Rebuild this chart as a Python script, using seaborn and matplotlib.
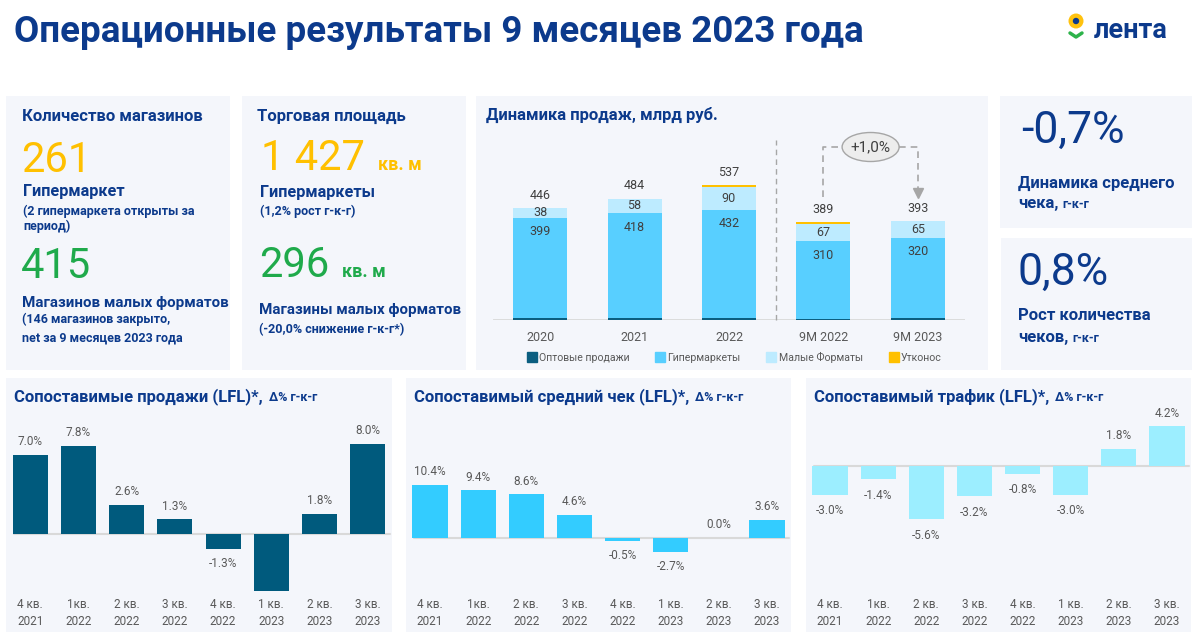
import numpy as np
import pandas as pd
import matplotlib
matplotlib.use("Agg")
import matplotlib.pyplot as plt
import seaborn as sns
from matplotlib.patches import Rectangle, Ellipse, Circle
from matplotlib.lines import Line2D

# ---------------- data ----------------
sales_periods = ["2020", "2021", "2022", "9M 2022", "9M 2023"]
sales_total = [446, 484, 537, 389, 393]
sales_wholesale = [9, 8, 7, 4, 8]
sales_hyper = [399, 418, 432, 310, 320]
sales_small = [38, 58, 90, 67, 65]
sales_utkonos = [0, 0, 8, 8, 0]
sales_growth = "+1,0%"
sales_legend = ["Оптовые продажи", "Гипермаркеты", "Малые Форматы", "Утконос"]

quarters = ["4 кв.\n2021", "1кв.\n2022", "2 кв.\n2022", "3 кв.\n2022",
            "4 кв.\n2022", "1 кв.\n2023", "2 кв.\n2023", "3 кв.\n2023"]
lfl_sales = [7.0, 7.8, 2.6, 1.3, -1.3, -5.0, 1.8, 8.0]
lfl_sales_labels = ["7.0%", "7.8%", "2.6%", "1.3%", "-1.3%", "", "1.8%", "8.0%"]
lfl_ticket = [10.4, 9.4, 8.6, 4.6, -0.5, -2.7, 0.0, 3.6]
lfl_ticket_labels = ["10.4%", "9.4%", "8.6%", "4.6%", "-0.5%", "-2.7%", "0.0%", "3.6%"]
lfl_traffic = [-3.0, -1.4, -5.6, -3.2, -0.8, -3.0, 1.8, 4.2]
lfl_traffic_labels = ["-3.0%", "-1.4%", "-5.6%", "-3.2%", "-0.8%", "-3.0%", "1.8%", "4.2%"]

stores_hyper = "261"
stores_small = "415"
area_hyper = "1 427"
area_small = "296"
avg_check = "-0,7%"
checks_growth = "0,8%"

# ---------------- style ----------------
sns.set_theme(style="white")
FONT = ["Roboto", "DejaVu Sans"]
plt.rcParams["font.family"] = FONT

DB = "#0C3A8C"
YEL = "#FFC000"
GRN = "#1FAA4B"
GRAY = "#595959"
DGRAY = "#404040"
PANEL = "#F4F6FB"
C_WHOLE = "#0B5E80"
C_HYPER = "#58CFFF"
C_SMALL = "#BDEBFF"
C_UTK = "#FFC000"

W, H = 1201, 639
fig = plt.figure(figsize=(W / 100, H / 100), dpi=100)
fig.patch.set_facecolor("white")
bg = fig.add_axes([0, 0, 1, 1], zorder=-1)
bg.set_xlim(0, W)
bg.set_ylim(H, 0)
bg.axis("off")


def px_axes(x0, y0, x1, y1):
    ax = fig.add_axes([x0 / W, 1 - y1 / H, (x1 - x0) / W, (y1 - y0) / H])
    ax.set_facecolor("none")
    for s in ax.spines.values():
        s.set_visible(False)
    return ax


def txt(x, y, s, size, color=DB, weight="bold", va="baseline", ha="left"):
    return bg.text(x, y, s, fontsize=size, color=color, fontweight=weight,
                   va=va, ha=ha)


def seq(x, y, pieces):
    r = fig.canvas.get_renderer()
    for s, size, color, weight, gap in pieces:
        t = txt(x, y, s, size, color, weight)
        bb = t.get_window_extent(r)
        x += bb.width + gap


# panels
panels = [(6, 96, 230, 370), (242, 96, 466, 370), (476, 96, 988, 370),
          (1000, 96, 1192, 228), (1001, 238, 1192, 370),
          (6, 378, 392, 632), (406, 378, 791, 632), (806, 378, 1191, 632)]
for x0, y0, x1, y1 in panels:
    bg.add_patch(Rectangle((x0, y0), x1 - x0, y1 - y0, facecolor=PANEL,
                           edgecolor="none", zorder=0))

# title + logo
txt(14, 42, "Операционные результаты 9 месяцев 2023 года", 26.5)
bg.add_patch(Circle((1076, 21), 7.5, facecolor="#FFC20E", edgecolor="none", zorder=2))
bg.add_patch(Circle((1076, 21), 3.2, facecolor=DB, edgecolor="none", zorder=3))
bg.plot([1070, 1076, 1082], [33, 37, 33], color="#2DB34A", lw=2.5,
        solid_capstyle="round", zorder=2)
txt(1094, 38, "лента", 19.5)

# ---- panel 1: stores ----
txt(22, 121, "Количество магазинов", 12)
txt(21, 172, stores_hyper, 30, YEL, "normal")
txt(23, 196, "Гипермаркет", 11.7)
txt(23, 215, "(2 гипермаркета открыты за", 9)
txt(23, 230, "период)", 9)
txt(21, 278, stores_small, 30, GRN, "normal")
txt(22, 307, "Магазинов малых форматов", 10.9)
txt(22, 323, "(146 магазинов закрыто,", 9)
txt(22, 341, "net за 9 месяцев 2023 года", 9)

# ---- panel 2: area ----
txt(257, 121, "Торговая площадь", 12)
seq(261, 170, [(area_hyper, 30, YEL, "normal", 13), ("кв. м", 13, YEL, "bold", 0)])
txt(260, 197, "Гипермаркеты", 11.7)
txt(260, 215, "(1,2% рост г-к-г)", 9)
seq(259, 277, [(area_small, 30, GRN, "normal", 13), ("кв. м", 13, GRN, "bold", 0)])
txt(259, 314, "Магазины малых форматов", 10.9)
txt(259, 333, "(-20,0% снижение г-к-г*)", 9)

# ---- right KPI panels ----
txt(1021, 143, avg_check, 32, DB, "normal")
txt(1018, 188, "Динамика среднего", 12)
seq(1018, 208, [("чека,", 12, DB, "bold", 4), ("г-к-г", 9, DB, "bold", 0)])
txt(1018, 285, checks_growth, 32, DB, "normal")
txt(1018, 320, "Рост количества", 12)
seq(1018, 342, [("чеков,", 12, DB, "bold", 4), ("г-к-г", 9, DB, "bold", 0)])

# ---- sales dynamics chart ----
txt(486, 120, "Динамика продаж, млрд руб.", 12)
PPU = 0.251  # px per bln rub
ax = px_axes(493, 130, 965, 320)
w = np.array(sales_wholesale)
hy = np.array(sales_hyper)
sm = np.array(sales_small)
ut = np.array(sales_utkonos)
levels = [(w + hy + sm + ut, C_UTK), (w + hy + sm, C_SMALL), (w + hy, C_HYPER), (w, C_WHOLE)]
for vals, col in levels:
    df = pd.DataFrame({"p": sales_periods, "v": vals})
    sns.barplot(data=df, x="p", y="v", color=col, width=0.57, saturation=1,
                linewidth=0, ax=ax, zorder=2)
ax.set_xlim(-0.5, 4.5)
ax.set_ylim(0, 190 / PPU)
ax.axhline(0, color="#D9D9D9", lw=2, zorder=1)
ax.set_xlabel("")
ax.set_ylabel("")
ax.set_yticks([])
ax.tick_params(axis="x", length=0, pad=8, labelsize=9, labelcolor=GRAY)
for i in range(len(sales_periods)):
    top = (w + hy + sm + ut)[i]
    ax.annotate(str(sales_total[i]), (i, top), xytext=(0, 13), textcoords="offset pixels",
                ha="center", va="center", fontsize=9, color=DGRAY)
    ax.annotate(str(sales_small[i]), (i, w[i] + hy[i] + sm[i] / 2), ha="center",
                va="center", fontsize=9, color=DGRAY)
    ax.annotate(str(sales_hyper[i]), (i, w[i] + hy[i]), xytext=(0, -14),
                textcoords="offset pixels", ha="center", va="center", fontsize=9,
                color=DGRAY)
# separator and growth bracket
ax.plot([2.5, 2.5], [0, 180 / PPU], color="#A6A6A6", lw=1, ls=(0, (4, 3)), clip_on=False)
y_lo, y_hi = 123 / PPU, 173 / PPU
ax.plot([3, 3, 3.2], [y_lo, y_hi, y_hi], color="#A6A6A6", lw=1.2, ls=(0, (4, 3)), clip_on=False)
ax.plot([3.8, 4, 4], [y_hi, y_hi, y_lo + 5 / PPU], color="#A6A6A6", lw=1.2, ls=(0, (4, 3)),
        clip_on=False)
ax.plot([4], [y_lo + 4 / PPU], marker="v", ms=7, color="#A6A6A6", clip_on=False)
ax.add_patch(Ellipse((3.5, y_hi), 57 / 94.4, 29 / PPU, facecolor="#EDEDED",
                     edgecolor="#A6A6A6", lw=1, clip_on=False, zorder=3))
ax.text(3.5, y_hi, sales_growth, ha="center", va="center", fontsize=11, color=DGRAY, zorder=4)
handles = [Line2D([], [], marker="s", ls="", color=c, markersize=7)
           for c in [C_WHOLE, C_HYPER, C_SMALL, C_UTK]]
fig.legend(handles, sales_legend, loc="center", bbox_to_anchor=(734 / W, 1 - 357 / H),
           ncol=4, frameon=False, fontsize=7.6, labelcolor=GRAY, handletextpad=0.2,
           columnspacing=2.4, handlelength=1.0)


# ---- LFL charts ----
def lfl_chart(x0, x1, base_px, ppu, values, labels, color, title_pieces, neg_off=15):
    a = px_axes(x0, 415, x1, 595)
    df = pd.DataFrame({"q": quarters, "v": values})
    sns.barplot(data=df, x="q", y="v", color=color, width=0.73, saturation=1,
                linewidth=0, ax=a, zorder=2)
    a.set_xlim(-0.5, 7.5)
    a.set_ylim(-(595 - base_px) / ppu, (base_px - 415) / ppu)
    a.axhline(0, xmin=0.02, xmax=0.995, color="#D9D9D9", lw=1.5, zorder=1)
    a.set_xlabel("")
    a.set_ylabel("")
    a.set_yticks([])
    a.set_xticks(range(len(quarters)))
    a.set_xticklabels(quarters, linespacing=1.35)
    a.tick_params(axis="x", length=0, pad=2.5, labelsize=8.5, labelcolor=GRAY)
    for i, (v, lab) in enumerate(zip(values, labels)):
        if not lab:
            continue
        off = 13 if v >= 0 else -neg_off
        a.annotate(lab, (i, v), xytext=(0, off), textcoords="offset pixels",
                   ha="center", va="center", fontsize=8.5, color=GRAY)
    seq(x0 + 8, 401, title_pieces)
    return a


lfl_chart(6, 392, 534, 11.3, lfl_sales, lfl_sales_labels, "#005A7D",
          [("Сопоставимые продажи (LFL)*,", 12, DB, "bold", 6), ("Δ% г-к-г", 9, DB, "bold", 0)])
lfl_chart(406, 791, 538, 5.1, lfl_ticket, lfl_ticket_labels, "#33CCFF",
          [("Сопоставимый средний чек (LFL)*,", 12, DB, "bold", 6), ("Δ% г-к-г", 9, DB, "bold", 0)])
lfl_chart(806, 1191, 466, 9.5, lfl_traffic, lfl_traffic_labels, "#9CEEFF",
          [("Сопоставимый трафик (LFL)*,", 12, DB, "bold", 6), ("Δ% г-к-г", 9, DB, "bold", 0)],
          neg_off=16)

fig.savefig("out.png", dpi=100, facecolor="white")
